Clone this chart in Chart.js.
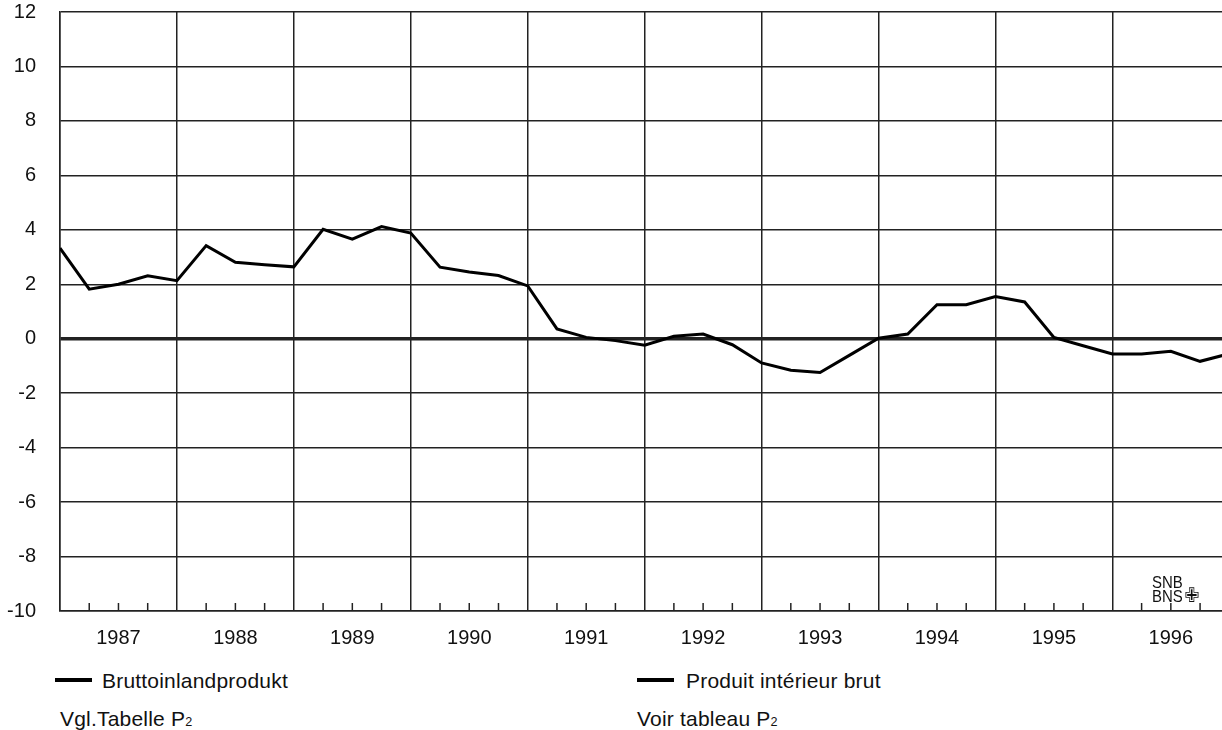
<!DOCTYPE html>
<html>
<head>
<meta charset="utf-8">
<script src="https://cdn.jsdelivr.net/npm/chart.js@4"></script>
<style>
  body { margin: 0; background: #fff; font-family: "Liberation Sans", Arial, sans-serif; }
  #wrap { position: relative; width: 1222px; height: 730px; overflow: hidden; }
  #chart { position: absolute; left: 0; top: -24px; }
  .t { position: absolute; font-size: 21px; line-height: 1; color: #111; white-space: nowrap; letter-spacing: 0.2px; }
  .sw { position: absolute; height: 4px; background: #000; }
  .sub { font-size: 60%; }
  #logo { position: absolute; left: 1152px; top: 576px; font-size: 17px; line-height: 14px; color: #111;
          transform: scaleX(0.88); transform-origin: left top; white-space: nowrap; }
  #logo .cross { font-family: "DejaVu Sans"; font-size: 20px; line-height: 0; margin-left: 2px; }
</style>
</head>
<body>
<div id="wrap">
  <canvas id="chart" width="1222" height="684"></canvas>
  <div class="sw" style="left:55px;top:678px;width:37px"></div>
  <div class="t" style="left:102px;top:670px">Bruttoinlandprodukt</div>
  <div class="sw" style="left:637px;top:678px;width:37px"></div>
  <div class="t" style="left:686px;top:670px">Produit intérieur brut</div>
  <div class="t" style="left:60px;top:708px">Vgl.Tabelle P<span class="sub">2</span></div>
  <div class="t" style="left:637px;top:708px">Voir tableau P<span class="sub">2</span></div>
  <div id="logo">SNB<br>BNS<span class="cross">✙</span></div>
</div>
<script>
// quarterly values, 1987 Q1 .. 1997 Q1
const years = ["1987", "1988", "1989", "1990", "1991", "1992", "1993", "1994", "1995", "1996"];
const gdp = [
  3.33, 1.82, 2.0, 2.31,
  2.13, 3.42, 2.81, 2.72,
  2.64, 4.02, 3.66, 4.12,
  3.88, 2.63, 2.45, 2.32,
  1.94, 0.36, 0.05, -0.07,
  -0.24, 0.09, 0.17, -0.22,
  -0.89, -1.16, -1.24, -0.61,
  0.02, 0.17, 1.25, 1.25,
  1.55, 1.35, 0.05, -0.26,
  -0.56, -0.56, -0.46, -0.83,
  -0.55
];
const yMin = -10, yMax = 12, yStep = 2;

const gridColor = "#222";

// small quarter ticks standing on the bottom axis
const quarterTicks = {
  id: "quarterTicks",
  afterDraw(chart) {
    const ctx = chart.ctx, xs = chart.scales.x, bottom = chart.chartArea.bottom;
    ctx.save();
    ctx.strokeStyle = gridColor;
    ctx.lineWidth = 1.5;
    for (let i = 0; i < 40; i++) {
      if (i % 4 === 0) continue;
      const x = xs.getPixelForValue(i);
      ctx.beginPath();
      ctx.moveTo(x, bottom);
      ctx.lineTo(x, bottom - 8);
      ctx.stroke();
    }
    ctx.restore();
  }
};

new Chart(document.getElementById("chart"), {
  type: "line",
  data: {
    datasets: [{
      data: gdp.map((v, i) => ({ x: i, y: v })),
      borderColor: "#000",
      borderWidth: 3,
      pointRadius: 0,
      tension: 0
    }]
  },
  options: {
    responsive: false,
    animation: false,
    layout: { padding: { top: 11, right: 0, left: 0, bottom: 0 } },
    plugins: { legend: { display: false }, tooltip: { enabled: false } },
    scales: {
      x: {
        type: "linear",
        min: 0,
        max: 39.75,
        afterBuildTicks: s => { s.ticks = []; for (let v = 0; v < 40; v += 2) s.ticks.push({ value: v }); },
        afterFit: s => { s.height = 49; },
        grid: {
          color: c => (c.tick && c.tick.value % 4 === 0) ? gridColor : "rgba(0,0,0,0)",
          lineWidth: 1.5,
          drawTicks: false
        },
        border: { color: gridColor, width: 1.5 },
        ticks: {
          autoSkip: false,
          maxRotation: 0,
          padding: 15,
          color: "#111",
          font: { family: "Liberation Sans", size: 20 },
          callback: v => (v % 4 === 2) ? years[(v - 2) / 4] : ""
        }
      },
      y: {
        min: yMin,
        max: yMax,
        afterFit: s => { s.width = 60; },
        grid: {
          color: gridColor,
          lineWidth: c => (c.tick && c.tick.value === 0) ? 3.5 : 1.5,
          drawTicks: false
        },
        border: { color: gridColor, width: 1.5 },
        ticks: {
          stepSize: yStep,
          padding: 24,
          color: "#111",
          font: { family: "Liberation Sans", size: 20 }
        }
      }
    }
  },
  plugins: [quarterTicks]
});
</script>
</body>
</html>
